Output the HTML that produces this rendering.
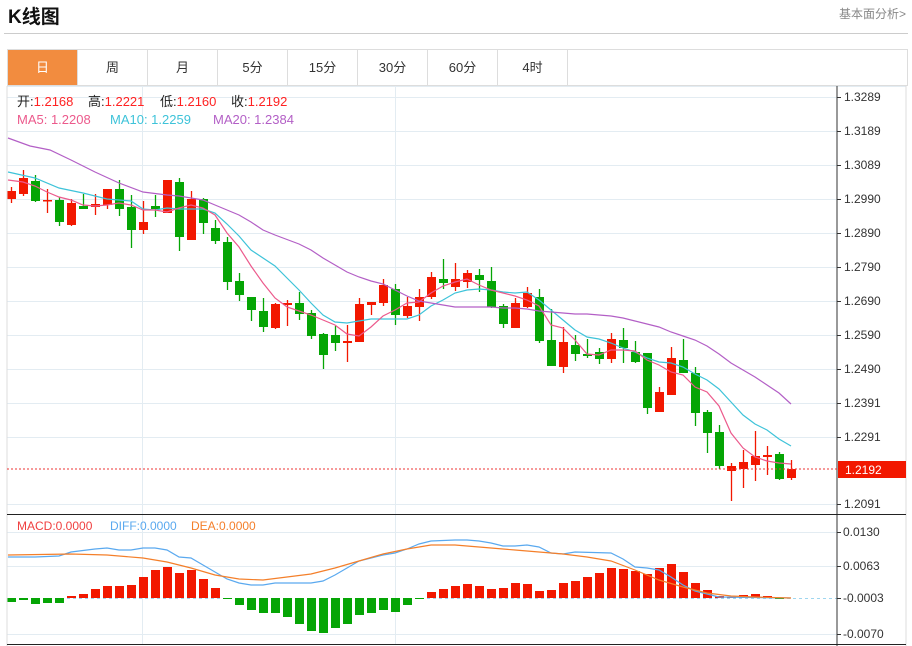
<!DOCTYPE html>
<html><head><meta charset="utf-8"><style>
body{margin:0;width:912px;height:646px;background:#fff;font-family:"Liberation Sans","Noto Sans CJK SC",sans-serif;position:relative;overflow:hidden}
.t{position:absolute;left:8px;top:2px;font-size:19px;font-weight:bold;color:#111}
.r{position:absolute;right:6px;top:5px;font-size:12px;color:#888}
.sep{position:absolute;left:4px;top:33px;width:904px;height:1px;background:#ccc}
.tabs{position:absolute;left:7px;top:49px;width:899px;height:35px;border:1px solid #ddd;border-bottom:1px solid #ddd}
.tab{position:absolute;top:0;height:35px;width:69px;border-right:1px solid #ddd;text-align:center;line-height:35px;font-size:13px;color:#333}
.tab.a{background:#f28c3f;color:#fff}
svg{position:absolute;left:0;top:0}
</style></head><body>
<div class="t">K线图</div><div class="r">基本面分析&gt;</div><div class="sep"></div>
<div class="tabs">
<div class="tab a" style="left:0">日</div><div class="tab" style="left:70px">周</div><div class="tab" style="left:140px">月</div><div class="tab" style="left:210px">5分</div><div class="tab" style="left:280px">15分</div><div class="tab" style="left:350px">30分</div><div class="tab" style="left:420px">60分</div><div class="tab" style="left:490px">4时</div>
</div>
<svg id="s" width="912" height="646" xmlns="http://www.w3.org/2000/svg" font-family="Liberation Sans, Noto Sans CJK SC, sans-serif">
<g id="grid"></g><g id="bars"></g><g id="lines"></g>
<line x1="7" y1="86" x2="7" y2="646" stroke="#ddd"/>
<line x1="906" y1="86" x2="906" y2="646" stroke="#ddd"/>
<line x1="837" y1="86" x2="837" y2="646" stroke="#333"/>
<line x1="7" y1="514.5" x2="906" y2="514.5" stroke="#222"/>
<line x1="7" y1="644.5" x2="906" y2="644.5" stroke="#222"/>
<line x1="7" y1="469" x2="837" y2="469" stroke="#e33" stroke-dasharray="2,2"/>
<rect x="838" y="461" width="68" height="17" fill="#f21800"/>
<text x="845" y="474" font-size="12" fill="#fff">1.2192</text>
<g font-size="13">
<text x="17" y="106" fill="#222">开:<tspan fill="#f22">1.2168</tspan></text>
<text x="88" y="106" fill="#222">高:<tspan fill="#f22">1.2221</tspan></text>
<text x="160" y="106" fill="#222">低:<tspan fill="#f22">1.2160</tspan></text>
<text x="231" y="106" fill="#222">收:<tspan fill="#f22">1.2192</tspan></text>
<text x="17" y="124" fill="#ec5a8c">MA5: 1.2208</text>
<text x="110" y="124" fill="#3ec3d9">MA10: 1.2259</text>
<text x="213" y="124" fill="#b35fc6">MA20: 1.2384</text>
</g>
<g font-size="12">
<text x="17" y="530" fill="#f04040">MACD:0.0000</text>
<text x="110" y="530" fill="#5aa9ef">DIFF:0.0000</text>
<text x="191" y="530" fill="#f47f2a">DEA:0.0000</text>
</g>
</svg>
<script>
var NS="http://www.w3.org/2000/svg",S=document.getElementById('s');
function el(p,t,a){var e=document.createElementNS(NS,t);for(var k in a)e.setAttribute(k,a[k]);document.getElementById(p).appendChild(e);return e;}
var ticks=[[97,"1.3289"],[131,"1.3189"],[165,"1.3089"],[199,"1.2990"],[233,"1.2890"],[267,"1.2790"],[301,"1.2690"],[335,"1.2590"],[369,"1.2490"],[403,"1.2391"],[437,"1.2291"],[504,"1.2091"]];
ticks.forEach(function(t){el('grid','line',{x1:7,x2:837,y1:t[0]+.5,y2:t[0]+.5,stroke:'#e3ecf2'});el('grid','line',{x1:837,x2:841,y1:t[0]+.5,y2:t[0]+.5,stroke:'#333'});var x=el('grid','text',{x:844,y:t[0]+4,'font-size':12,fill:'#333'});x.textContent=t[1];});
var mt=[[532,"0.0130"],[566,"0.0063"],[598,"-0.0003"],[634,"-0.0070"]];
mt.forEach(function(t){el('grid','line',{x1:7,x2:837,y1:t[0]+.5,y2:t[0]+.5,stroke:t[0]==598?'#9fd6ef':'#e3ecf2','stroke-dasharray':t[0]==598?'3,3':''});el('grid','line',{x1:837,x2:841,y1:t[0]+.5,y2:t[0]+.5,stroke:'#333'});var x=el('grid','text',{x:843,y:t[0]+4,'font-size':12,fill:'#333'});x.textContent=t[1];});
el('grid','line',{x1:7,x2:906,y1:86.5,y2:86.5,stroke:'#e3ecf2'});
[142,395].forEach(function(x){el('grid','line',{x1:x+.5,x2:x+.5,y1:86,y2:644,stroke:'#e3ecf2'});});
var C=[[191,199,187,203,1],[178,194,170,196,1],[181,201,175,202,0],[200,201,189,213,1],[200,222,197,226,0],[203,225,199,226,1],[206,209,194,209,0],[204,207,194,215,1],[189,205,189,209,1],[189,209,180,216,0],[207,230,195,248,0],[222,230,201,234,1],[206,209,195,217,0],[180,213,180,213,1],[182,237,178,251,0],[199,240,191,240,1],[199,223,198,234,0],[228,241,220,244,0],[242,282,237,290,0],[281,295,273,301,0],[297,310,297,321,0],[311,327,298,332,0],[304,328,303,329,1],[303,305,300,326,1],[303,314,292,320,0],[313,336,310,339,0],[334,355,333,369,0],[335,343,326,351,0],[341,343,325,362,1],[304,342,298,342,1],[302,305,302,315,1],[285,303,279,306,1],[289,315,284,325,0],[306,316,297,318,1],[297,307,289,321,1],[277,297,272,299,1],[279,283,259,289,0],[279,287,263,291,1],[273,282,270,288,1],[275,280,269,292,0],[281,307,267,308,0],[306,324,304,328,0],[303,328,298,328,1],[293,307,287,308,1],[297,341,289,343,0],[340,366,309,366,0],[342,367,327,373,1],[345,354,335,361,0],[354,356,339,358,0],[352,359,348,364,0],[339,359,333,363,1],[340,348,328,363,0],[352,362,341,363,0],[353,408,353,414,0],[392,412,387,412,1],[358,395,347,395,1],[360,373,339,373,0],[373,413,367,426,0],[412,433,410,453,0],[432,466,425,469,0],[466,471,463,501,1],[462,469,450,488,1],[456,465,431,481,1],[455,457,446,475,1],[454,479,452,480,0],[469,478,460,480,1]];
var H=[602,600,604,603,603,596,594,589,586,586,585,577,570,567,573,570,579,588,599,605,610,613,613,617,624,631,633,628,624,615,613,610,612,605,599,592,589,586,584,586,589,588,583,584,591,590,583,581,577,573,568,569,571,574,568,564,572,583,590,596,597,595,594,596,599,598];
var RED='#f21800',GRN='#05a505';
C.forEach(function(c,i){var x=11.5+12*i,col=c[4]?RED:GRN;
el('bars','line',{x1:x,x2:x,y1:c[2],y2:c[3],stroke:col,'stroke-width':1.3});
el('bars','rect',{x:x-4.5,y:c[0],width:9,height:Math.max(1.5,c[1]-c[0]),fill:col});
var h=H[i];if(Math.abs(h-598)>=1){var r=h<598;el('bars','rect',{x:x-4.5,y:Math.min(h,598),width:9,height:Math.abs(h-598),fill:r?RED:GRN});}
});
function pl(pts,col){el('lines','polyline',{points:pts,fill:'none',stroke:col,'stroke-width':1.2});}
pl("8,172 35,178 59,188 83,193 107,199 131,201 143,209 155,210 167,208 179,209 203,209 215,213 227,224 239,236 251,250 275,266 287,278 299,290 311,303 323,315 335,322 347,323 359,321 371,319 383,319 395,319 407,319 419,315 431,306 443,300 455,293 467,290 479,289 491,290 503,292 515,293 527,292 539,300 551,310 563,320 575,330 587,337 599,339 611,343 623,348 635,352 647,358 659,362 671,363 683,367 695,374 707,380 719,389 731,402 743,415 755,424 767,430 779,439 791,446",'#3ec3d9');
pl("8,180 23,182 35,186 47,192 59,197 71,200 83,205 95,206 107,205 119,203 131,205 143,210 155,210 167,212 179,208 191,205 203,208 215,215 227,233 239,247 251,266 263,283 275,298 287,307 299,311 311,315 323,320 335,325 347,334 359,336 371,327 383,316 395,310 407,303 419,302 431,293 443,286 455,282 467,279 479,285 491,290 503,293 515,296 527,300 539,306 551,325 563,328 575,340 587,354 599,355 611,350 623,350 635,351 647,360 659,365 671,372 683,375 695,387 707,392 719,406 731,433 743,448 755,457 767,461 779,463 791,464",'#ec5a8c');
pl("8,138 30,146 50,150 71,160 95,172 119,183 143,192 167,195 179,196 203,200 215,205 227,210 239,215 251,222 263,230 275,235 299,244 311,250 323,258 335,265 347,272 359,277 371,281 383,284 395,290 407,296 419,301 431,303 443,305 455,307 467,307 479,307 491,307 503,308 515,308 527,309 539,311 551,312 563,313 575,314 587,314 599,315 611,316 623,318 635,321 647,324 659,327 671,332 683,336 695,340 707,346 719,354 731,363 743,370 755,377 767,385 779,393 791,404",'#b35fc6');
pl("8,557 35,557 59,556 71,552 95,549 107,548 119,550 131,550 143,548 155,548 167,550 179,557 191,558 203,565 215,572 227,579 239,583 251,585 263,585 275,583 311,583 323,581 335,575 347,568 359,561 371,558 383,555 395,553 407,549 419,544 431,541 455,540 467,540 479,541 491,543 503,546 515,546 527,545 539,547 551,553 563,554 575,552 611,553 623,559 635,567 647,568 659,570 671,577 683,585 695,591 707,594 719,597 791,598",'#5aa9ef');
pl("8,555 71,554 107,555 143,558 167,562 191,568 215,575 239,579 263,580 287,577 311,574 335,568 359,561 383,554 407,549 431,545 455,545 467,546 491,548 515,550 539,552 563,554 587,557 611,561 635,570 659,580 683,587 707,593 731,596 755,597 791,598",'#f47f2a');
</script>
</body></html>
